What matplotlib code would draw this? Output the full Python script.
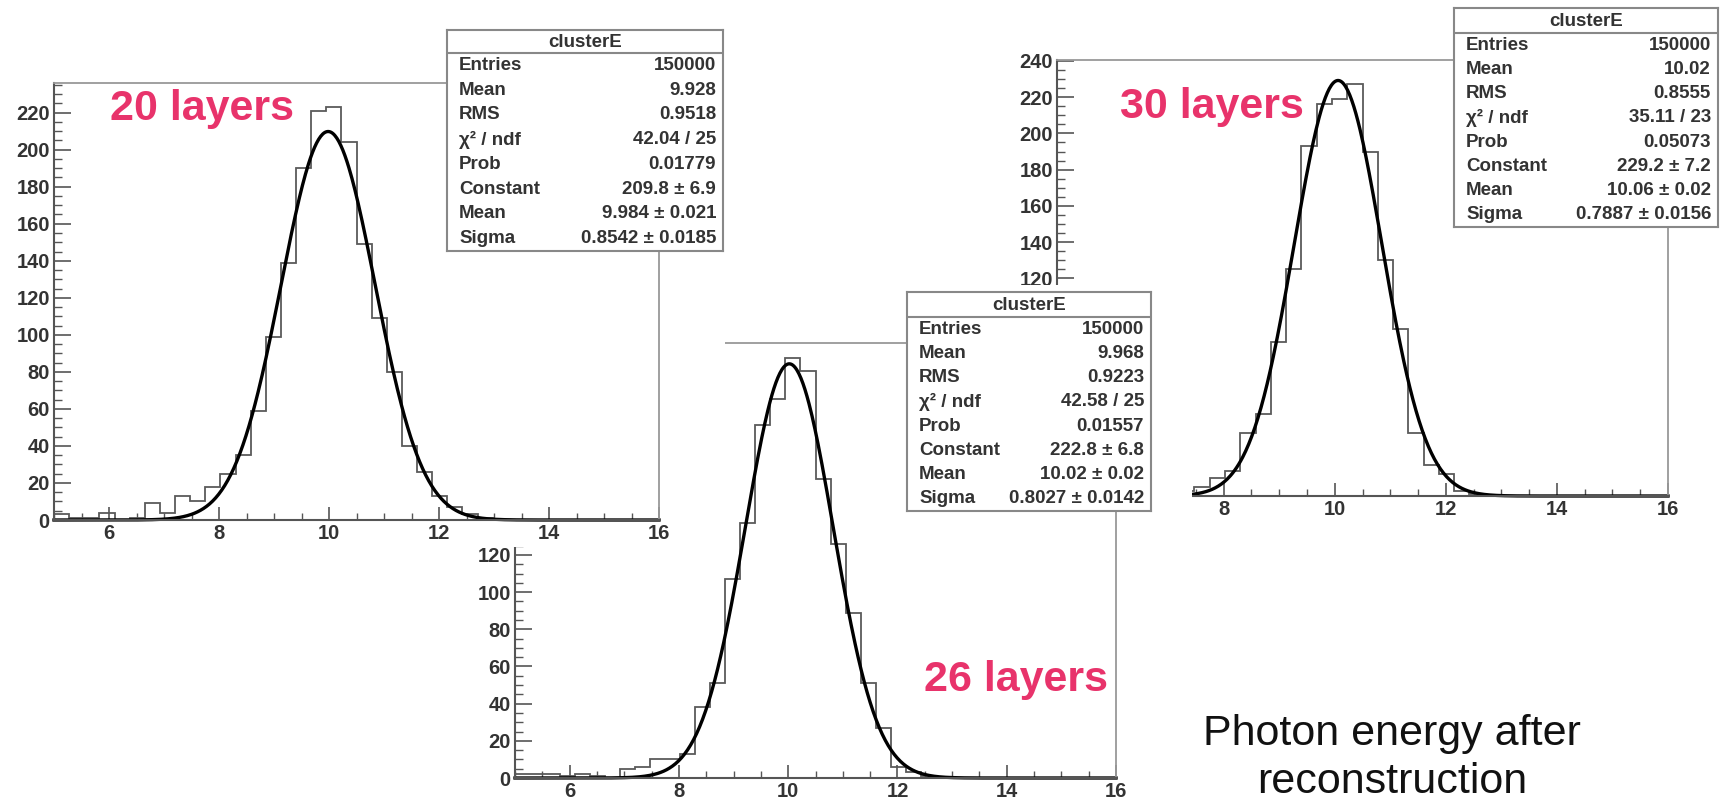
import numpy as np
import matplotlib
matplotlib.use('Agg')
import matplotlib.pyplot as plt
from matplotlib.patches import Rectangle
from matplotlib.ticker import MultipleLocator, FuncFormatter

plt.rcParams['font.family'] = ['Liberation Sans', 'DejaVu Sans']

# histogram binning (ROOT: 40 bins from 5 to 16)
bin_lo, bin_hi, n_bins = 5, 16, 40

# bin contents
counts_20 = [3, 1, 1, 4, 0, 1, 9, 4, 13, 10, 18, 25, 35, 59, 99, 139, 190, 221, 223, 204,
             149, 109, 80, 40, 26, 13, 7, 3, 1, 0, 0, 0, 0, 0, 0, 0, 0, 0, 0, 0]
counts_26 = [2, 2, 2, 1, 2, 1, 0, 5, 6, 10, 10, 13, 38, 51, 107, 137, 190, 204, 226, 219,
             161, 126, 89, 51, 27, 6, 3, 1, 0, 0, 0, 0, 0, 0, 0, 0, 0, 0, 0, 0]
counts_30 = [1, 0, 1, 0, 1, 0, 1, 2, 3, 5, 10, 14, 35, 45, 85, 125, 193, 216, 219, 227,
             190, 130, 92, 35, 17, 12, 3, 1, 0, 0, 0, 0, 0, 0, 0, 0, 0, 0, 0, 0]

# gaussian fit parameters (Constant, Mean, Sigma)
fit_20 = [209.8, 9.984, 0.8542]
fit_26 = [222.8, 10.02, 0.8027]
fit_30 = [229.2, 10.06, 0.7887]

stat_names = ['Entries', 'Mean', 'RMS', 'χ² / ndf', 'Prob', 'Constant', 'Mean', 'Sigma']
stats_20 = ['150000', '9.928', '0.9518', '42.04 / 25', '0.01779',
            '209.8 ± 6.9', '9.984 ± 0.021', '0.8542 ± 0.0185']
stats_26 = ['150000', '9.968', '0.9223', '42.58 / 25', '0.01557',
            '222.8 ± 6.8', '10.02 ± 0.02', '0.8027 ± 0.0142']
stats_30 = ['150000', '10.02', '0.8555', '35.11 / 23', '0.05073',
            '229.2 ± 7.2', '10.06 ± 0.02', '0.7887 ± 0.0156']

W, H = 1730, 801
pink = '#e8336b'

fig = plt.figure(figsize=(W / 100, H / 100), dpi=100)


def px_rect(x0, y0, x1, y1):
    return [x0 / W, 1 - y1 / H, (x1 - x0) / W, (y1 - y0) / H]


def canvas(x0, y0, x1, y1, z):
    # white background of one pasted ROOT canvas
    fig.add_artist(Rectangle((x0 / W, 1 - y1 / H), (x1 - x0) / W, (y1 - y0) / H,
                             transform=fig.transFigure, facecolor='white',
                             edgecolor='none', zorder=z))


def panel(rect, counts, fit, ymax, z, ylab=(0, 240), xlab_min=6):
    ax = fig.add_axes(px_rect(*rect), zorder=z)
    edges = np.linspace(bin_lo, bin_hi, n_bins + 1)
    ax.stairs(counts, edges, color='#5a5a5a', lw=1.3)
    xs = np.linspace(bin_lo, bin_hi, 600)
    c, m, s = fit
    ax.plot(xs, c * np.exp(-0.5 * ((xs - m) / s) ** 2), color='black', lw=2.4,
            clip_on=False)
    ax.set_xlim(bin_lo, bin_hi)
    ax.set_ylim(0, ymax)
    ax.xaxis.set_major_locator(MultipleLocator(2))
    ax.xaxis.set_minor_locator(MultipleLocator(0.5))
    ax.yaxis.set_major_locator(MultipleLocator(20))
    ax.yaxis.set_minor_locator(MultipleLocator(5))
    # labels hidden under the canvas pasted on top are left out
    ax.xaxis.set_major_formatter(FuncFormatter(
        lambda v, p: f'{v:.0f}' if v >= xlab_min else ''))
    ax.yaxis.set_major_formatter(FuncFormatter(
        lambda v, p: f'{v:.0f}' if ylab[0] <= v <= ylab[1] else ''))
    ax.tick_params(which='both', direction='in', color='#555555', top=False, right=False)
    ax.tick_params(axis='y', which='major', length=12, width=1.2, pad=3)
    ax.tick_params(axis='y', which='minor', length=6, width=1)
    ax.tick_params(axis='x', which='major', length=9.5, width=1.2, pad=3)
    ax.tick_params(axis='x', which='minor', length=5, width=1)
    ax.tick_params(labelsize=14.5, labelcolor='#333333')
    for lab in ax.get_xticklabels() + ax.get_yticklabels():
        lab.set_fontweight('bold')
    for side in ['left', 'bottom']:
        ax.spines[side].set_color('#555555')
        ax.spines[side].set_linewidth(1.5)
    for side in ['top', 'right']:
        ax.spines[side].set_color('#999999')
        ax.spines[side].set_linewidth(1.3)
    return ax


def stats_box(x0, y0, ysep, x1, y1, values, z):
    bx = fig.add_axes(px_rect(x0, y0, x1, y1), zorder=z)
    bx.set_xlim(x0, x1)
    bx.set_ylim(y1, y0)
    bx.set_xticks([])
    bx.set_yticks([])
    for sp in bx.spines.values():
        sp.set_color('#888888')
        sp.set_linewidth(1.5)
    bx.axhline(ysep, color='#888888', lw=1.5)
    kw = dict(fontsize=13.5, fontweight='bold', color='#333333', va='center')
    bx.text((x0 + x1) / 2, (y0 + ysep) / 2 + 1, 'clusterE', ha='center', **kw)
    h = (y1 - ysep) / len(stat_names)
    for i, (name, val) in enumerate(zip(stat_names, values)):
        yc = ysep + h * (i + 0.5)
        bx.text(x0 + 12, yc, name, ha='left', **kw)
        bx.text(x1 - 7, yc, val, ha='right', **kw)


# 30 layers (bottom of the stack)
panel((1057, 60, 1668, 496), counts_30, fit_30, 240.5, 1, ylab=(120, 240), xlab_min=8)
stats_box(1454, 8, 33, 1718, 227, stats_30, 2)
fig.text(1120 / W, 1 - 118 / H, '30 layers', color=pink, fontsize=31,
         fontweight='bold', va='baseline', ha='left', zorder=2.5)

# 26 layers
canvas(430, 285, 1192, 801, 3)
panel((515, 343, 1116, 778), counts_26, fit_26, 234, 4, ylab=(0, 120))
stats_box(907, 292, 317, 1151, 511, stats_26, 5)
fig.text(924 / W, 1 - 691 / H, '26 layers', color=pink, fontsize=31,
         fontweight='bold', va='baseline', ha='left', zorder=5.5)

# 20 layers (top of the stack)
canvas(0, 0, 725, 547, 6)
panel((54, 83, 659, 520), counts_20, fit_20, 236, 7, ylab=(0, 220))
stats_box(447, 30, 53, 723, 251, stats_20, 8)
fig.text(110 / W, 1 - 120 / H, '20 layers', color=pink, fontsize=31,
         fontweight='bold', va='baseline', ha='left', zorder=8.5)

fig.text(1392 / W, 1 - 745 / H, 'Photon energy after', color='#111111', fontsize=31,
         ha='center', va='baseline', zorder=10)
fig.text(1392 / W, 1 - 793 / H, 'reconstruction', color='#111111', fontsize=31,
         ha='center', va='baseline', zorder=10)

fig.savefig('out.png', dpi=100, facecolor='white')
